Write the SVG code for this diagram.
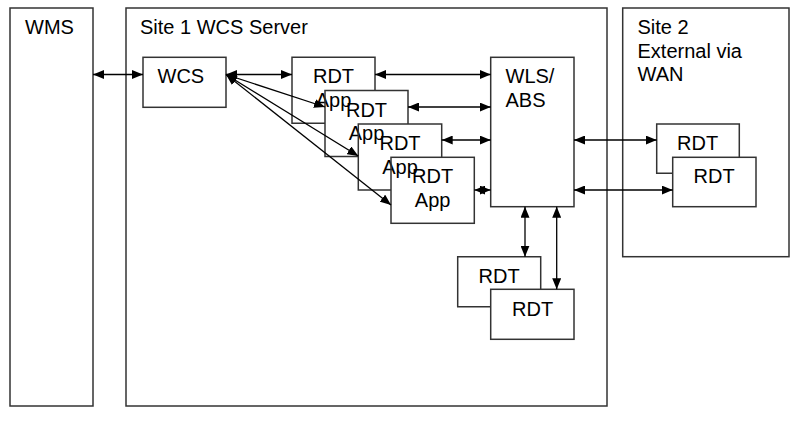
<svg xmlns="http://www.w3.org/2000/svg" width="800" height="436" viewBox="0 0 800 436">
<defs>
<marker id="ah" viewBox="0 0 11 9" refX="11" refY="4.5" markerWidth="11" markerHeight="9" markerUnits="userSpaceOnUse" orient="auto-start-reverse">
<path d="M0,0 L11,4.5 L0,9 z" fill="#000"/>
</marker>
<style>
.box{fill:#fff;stroke:#333;stroke-width:1.5}
.ol{fill:none;stroke:#333;stroke-width:1.5}
text{font-family:"Liberation Sans",Arial,sans-serif;font-size:20px;fill:#000}
.c{text-anchor:middle}
.conn line{stroke:#000;stroke-width:1.3;marker-start:url(#ah);marker-end:url(#ah)}
</style>
</defs>
<rect width="800" height="436" fill="#fff"/>
<g id="wms"><rect class="box" x="10" y="8" width="83" height="398"/><text x="25" y="34">WMS</text></g>
<g id="site1"><rect class="box" x="126" y="8" width="481" height="398"/><text x="140" y="34">Site 1 WCS Server</text></g>
<g id="site2"><rect class="box" x="622.7" y="8" width="166.3" height="248.7"/><text x="637.5" y="34">Site 2</text><text x="637.5" y="57.5">External via</text><text x="637.5" y="80.5">WAN</text></g>
<g id="wcs"><rect class="box" x="143" y="57.3" width="83" height="50"/><text x="157.5" y="83">WCS</text></g>
<g id="rdtapp1"><path class="ol" d="M375,90.6 V57.3 H292 V123.3 H325"/><text class="c" x="333.5" y="83">RDT</text><text class="c" x="333.5" y="106.5">App</text></g>
<g id="rdtapp2"><path class="ol" d="M408,124 V90.6 H325 V156.6 H358.3"/><text class="c" x="366.5" y="116.5">RDT</text><text class="c" x="366.5" y="140">App</text></g>
<g id="rdtapp3"><path class="ol" d="M441.7,157.3 V124 H358.3 V190 H391"/><text class="c" x="400" y="150">RDT</text><text class="c" x="400" y="173.5">App</text></g>
<g id="rdtapp4"><rect class="ol" x="391" y="157.3" width="83.3" height="66"/><text class="c" x="432.6" y="183">RDT</text><text class="c" x="432.6" y="206.5">App</text></g>
<g id="wlsabs"><rect class="box" x="490.7" y="57.3" width="83.3" height="149.4"/><text x="505.5" y="83">WLS/</text><text x="505.5" y="106.5">ABS</text></g>
<g id="rdt-wan-1"><path class="ol" d="M739.3,157.3 V124 H656.7 V173.3 H672.7"/><text x="677" y="150">RDT</text></g>
<g id="rdt-wan-2"><rect class="ol" x="672.7" y="157.3" width="83.3" height="49.4"/><text x="693.5" y="183">RDT</text></g>
<g id="rdt-local-1"><path class="ol" d="M540.7,289.3 V256.7 H457.7 V306.7 H490.7"/><text x="478.5" y="282.7">RDT</text></g>
<g id="rdt-local-2"><rect class="ol" x="490.7" y="289.3" width="83.3" height="50"/><text x="512" y="315.7">RDT</text></g>
<g id="connectors" class="conn">
<line x1="93" y1="74.5" x2="143" y2="74.5"/>
<line x1="226" y1="74.5" x2="292" y2="74.5"/>
<line x1="226" y1="74.5" x2="325" y2="107"/>
<line x1="226" y1="74.5" x2="358.3" y2="156"/>
<line x1="226" y1="74.5" x2="391" y2="205"/>
<line x1="375" y1="74.5" x2="490.7" y2="74.5"/>
<line x1="408" y1="107" x2="490.7" y2="107"/>
<line x1="441.7" y1="140" x2="490.7" y2="140"/>
<line x1="474.3" y1="190" x2="490.7" y2="190"/>
<line x1="574" y1="140" x2="656.7" y2="140"/>
<line x1="574" y1="190" x2="672.7" y2="190"/>
<line x1="525" y1="206.7" x2="525" y2="256.7"/>
<line x1="556.7" y1="206.7" x2="556.7" y2="289.3"/>
</g>
</svg>
